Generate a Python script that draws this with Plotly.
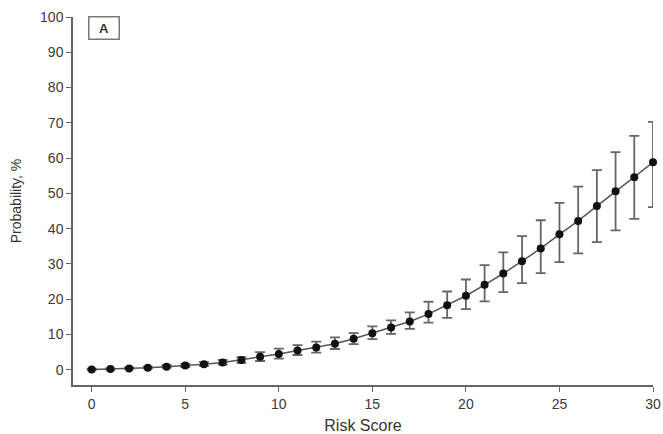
import plotly.graph_objects as go

risk_score = list(range(0, 31))
probability = [0.1, 0.2, 0.4, 0.6, 0.9, 1.2, 1.6, 2.1, 2.8, 3.7, 4.5, 5.5, 6.3, 7.4, 8.8, 10.4,
               12.0, 13.7, 15.8, 18.3, 21.0, 24.1, 27.3, 30.8, 34.4, 38.4, 42.2, 46.4, 50.6, 54.6, 58.8]
upper_ci = [0.3, 0.4, 0.7, 0.9, 1.3, 1.7, 2.2, 2.8, 3.6, 5.0, 6.0, 7.0, 8.0, 9.2, 10.4, 12.3,
            14.0, 16.3, 19.3, 22.2, 25.6, 29.7, 33.3, 37.9, 42.4, 47.3, 51.9, 56.6, 61.7, 66.3, 70.3]
lower_ci = [0.0, 0.1, 0.2, 0.4, 0.6, 0.8, 1.1, 1.5, 2.0, 2.5, 3.2, 4.2, 4.9, 5.9, 7.3, 8.7,
            10.2, 11.6, 13.4, 14.7, 17.2, 19.4, 22.0, 24.6, 27.4, 30.5, 33.0, 36.2, 39.5, 42.8, 46.1]

err_plus = [u - p for u, p in zip(upper_ci, probability)]
err_minus = [p - l for p, l in zip(probability, lower_ci)]

x_ticks = [0, 5, 10, 15, 20, 25, 30]
y_ticks = [0, 10, 20, 30, 40, 50, 60, 70, 80, 90, 100]

FONT = "Liberation Sans, Arial, sans-serif"

fig = go.Figure()
fig.add_trace(go.Scatter(
    x=risk_score, y=probability, mode="lines+markers",
    line=dict(color="#555555", width=1.5),
    marker=dict(color="#111111", size=8),
    error_y=dict(type="data", symmetric=False, array=err_plus, arrayminus=err_minus,
                 color="#666666", thickness=1.8, width=5),
    cliponaxis=False,
    showlegend=False,
))

axis_common = dict(
    showgrid=False, zeroline=False, showline=True, linecolor="#666666", linewidth=1.5,
    ticks="outside", ticklen=5, tickwidth=1, tickcolor="#666666", automargin=False,
    tickfont=dict(family=FONT, size=14, color="#3a3a3a"),
)

fig.update_layout(
    width=663, height=434,
    margin=dict(l=73, r=10, t=17, b=49),
    plot_bgcolor="white", paper_bgcolor="white",
    xaxis=dict(range=[-1, 30], tickvals=x_ticks, **axis_common,
               title=dict(text="Risk Score", font=dict(family=FONT, size=16, color="#333333"))),
    yaxis=dict(range=[-4.3, 100], tickvals=y_ticks, **axis_common,
               title=dict(text="Probability, %", font=dict(family=FONT, size=14, color="#333333"))),
    annotations=[dict(
        x=0, y=1, xref="paper", yref="paper", xanchor="left", yanchor="top",
        xshift=15, yshift=1, text="<b>A</b>", showarrow=False,
        font=dict(family=FONT, size=13, color="#333333"),
        bordercolor="#777777", borderwidth=1.5, borderpad=1, bgcolor="white",
        width=27, height=19,
    )],
)

fig.write_html("out.html", config={"displayModeBar": False},
               post_script="document.body.style.margin='0';document.body.style.overflow='hidden';")
